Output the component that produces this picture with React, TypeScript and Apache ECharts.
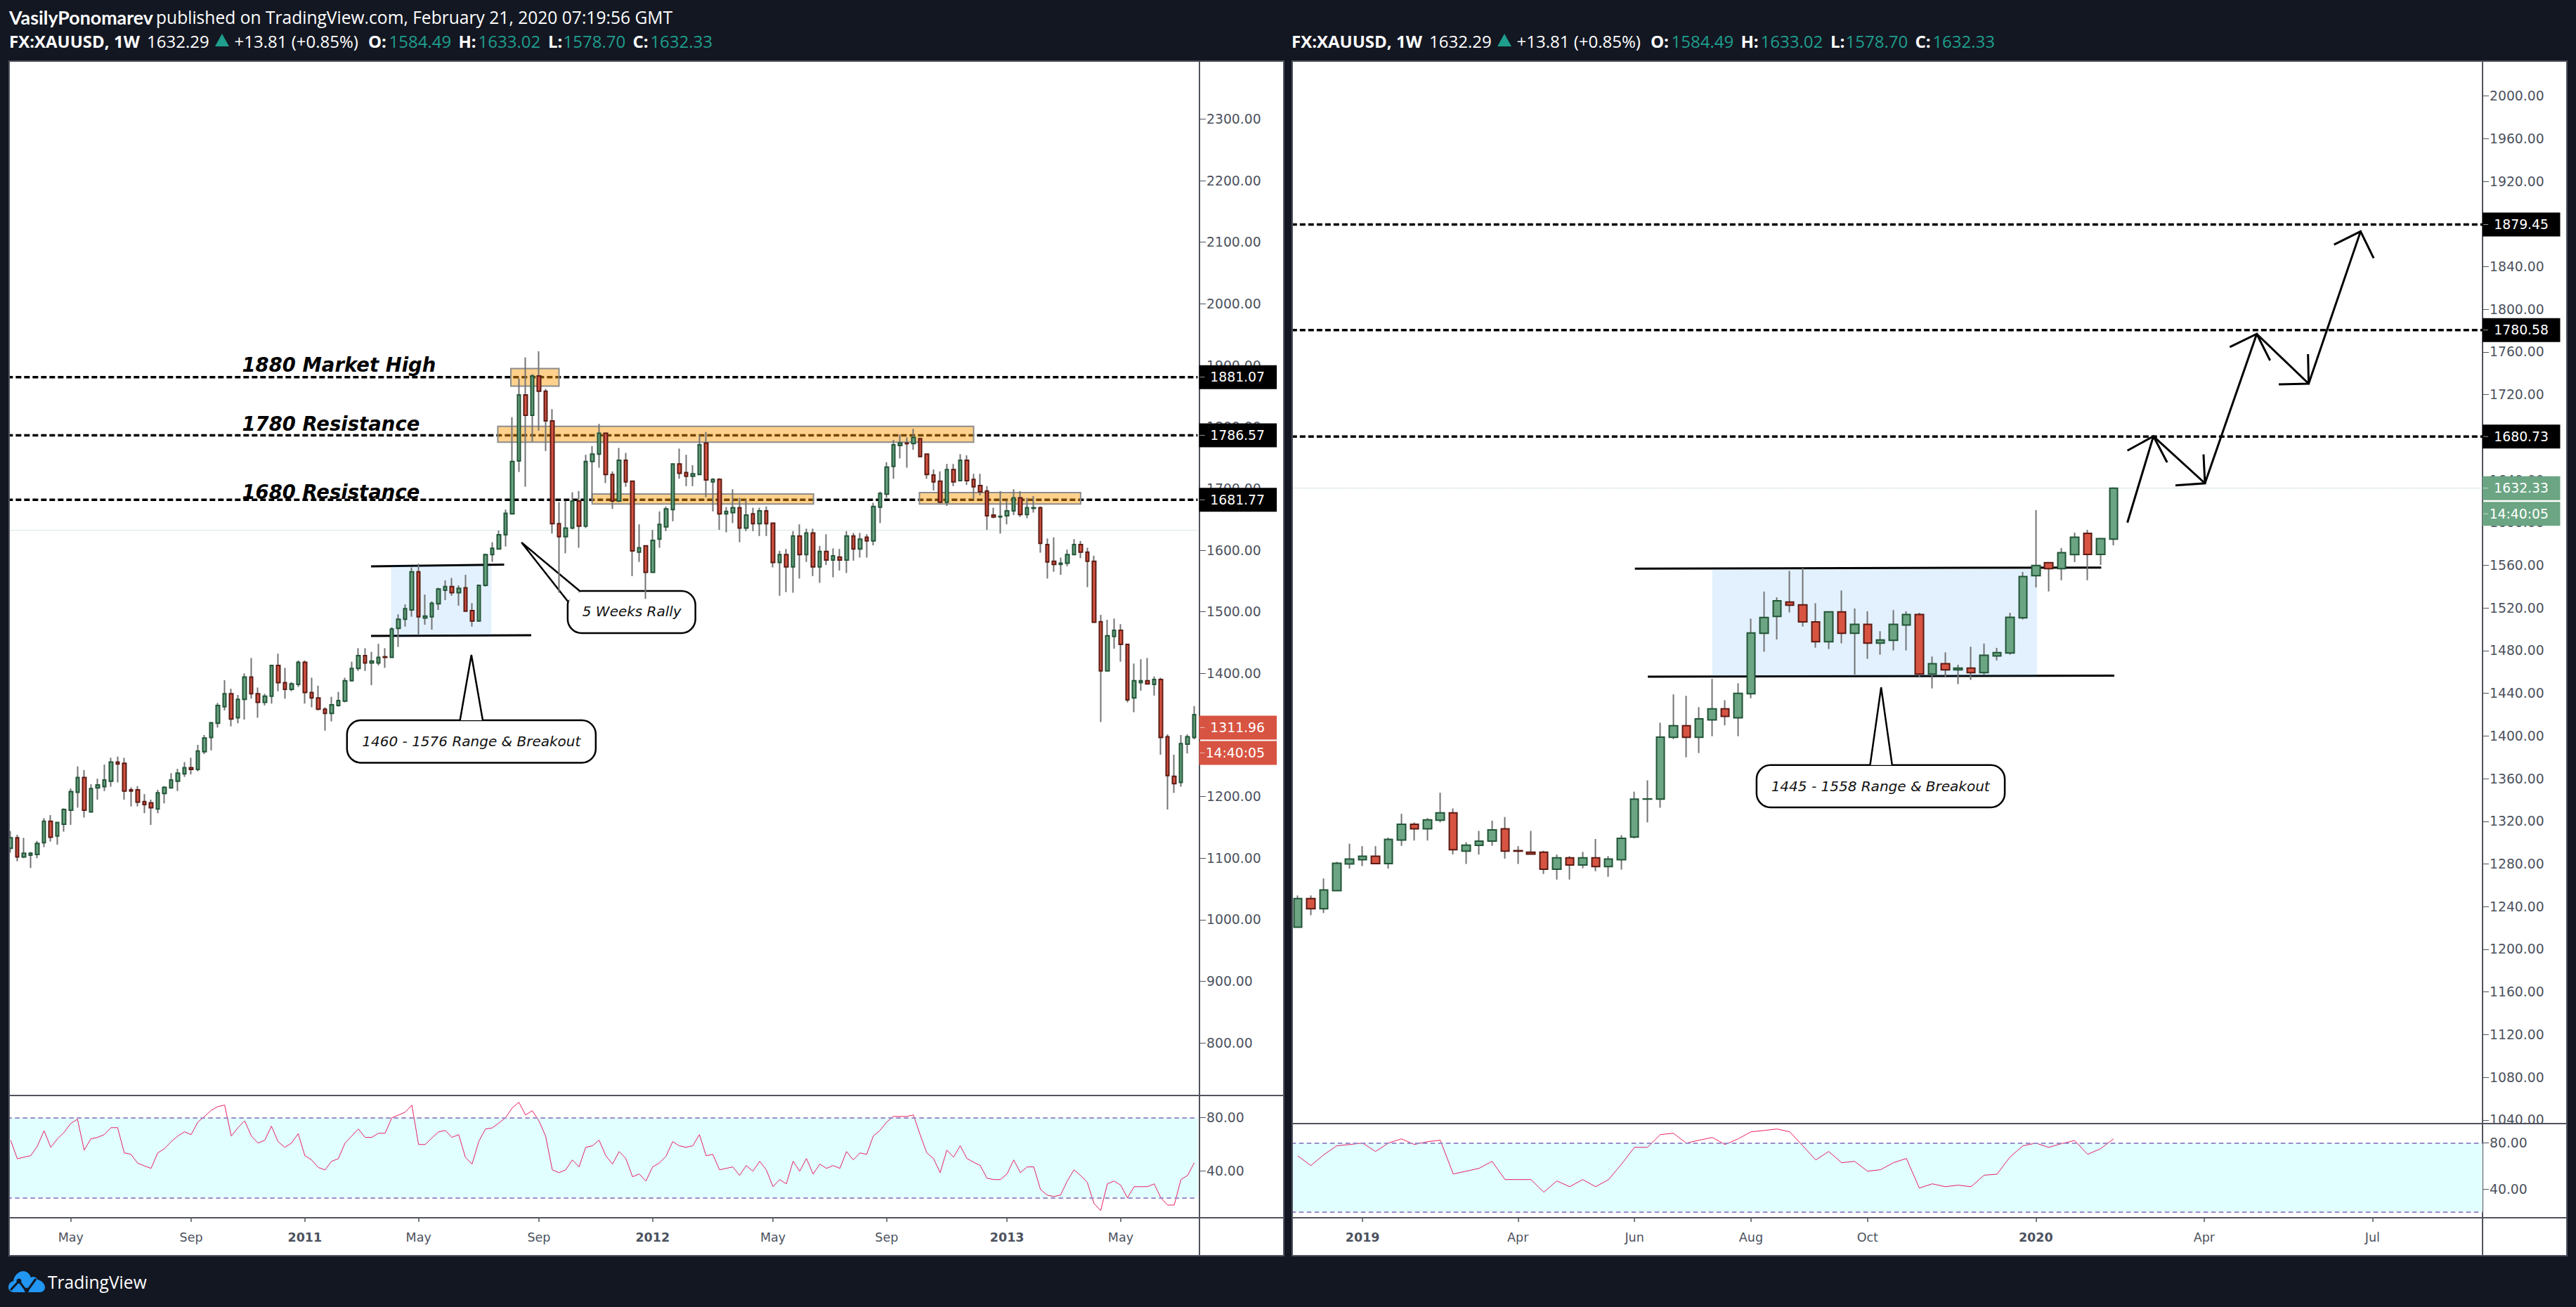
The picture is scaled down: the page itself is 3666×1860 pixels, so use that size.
import React, { useEffect, useRef } from "react";
import * as echarts from "echarts";

// ---------- data ----------
// [open, close, low, high]
const leftCandles: number[][] = [
[1116,1133,1109,1144],[1133,1102,1095,1138],[1102,1108,1100,1133],[1105,1108,1084,1110],[1106,1124,1100,1128],
[1125,1160,1118,1165],[1160,1134,1127,1170],[1136,1158,1122,1158],[1155,1179,1143,1181],[1178,1208,1154,1213],
[1207,1231,1182,1249],[1231,1178,1166,1243],[1175,1213,1175,1220],[1214,1219,1195,1229],[1216,1227,1209,1252],
[1225,1256,1216,1263],[1256,1253,1223,1265],[1254,1209,1195,1263],[1211,1209,1184,1215],[1211,1191,1184,1217],
[1192,1187,1173,1204],[1190,1182,1154,1195],[1180,1206,1173,1211],[1205,1215,1189,1217],[1214,1227,1214,1238],
[1225,1238,1209,1245],[1237,1247,1232,1256],[1247,1244,1236,1263],[1244,1274,1241,1284],[1273,1295,1269,1300],
[1296,1320,1275,1320],[1319,1348,1312,1352],
[1346,1367,1340,1389],[1367,1326,1314,1375],[1328,1358,1319,1365],[1358,1394,1325,1400],[1394,1367,1359,1425],
[1367,1353,1328,1377],[1353,1363,1348,1367],[1363,1413,1351,1413],[1413,1385,1371,1432],[1385,1374,1359,1409],
[1374,1383,1371,1386],[1382,1418,1378,1421],[1418,1369,1351,1421],[1369,1360,1345,1393],[1360,1342,1340,1380],
[1342,1335,1307,1345],[1335,1349,1322,1362],[1348,1356,1346,1370],[1355,1388,1353,1393],[1388,1408,1387,1419],
[1408,1429,1404,1441],[1429,1417,1404,1441],[1417,1420,1381,1435],[1417,1426,1413,1448],[1427,1426,1409,1441],
[1426,1472,1426,1475],[1473,1488,1443,1496],[1488,1505,1476,1512],[1503,1565,1492,1572],[1565,1492,1462,1578],
[1490,1493,1479,1528],[1492,1514,1471,1517],[1513,1537,1503,1539],[1535,1541,1519,1551],[1541,1531,1526,1555],
[1531,1538,1510,1543],[1539,1501,1501,1560],[1502,1485,1476,1514],[1485,1543,1484,1544],[1543,1593,1541,1594],
[1593,1603,1581,1613],[1602,1625,1602,1632],[1625,1660,1606,1666],[1659,1744,1659,1816],[1745,1852,1727,1879],
[1852,1819,1703,1913],[1819,1883,1776,1886],[1883,1858,1794,1923],[1858,1810,1761,1862],[1810,1643,1627,1829],
[1643,1622,1531,1678],[1622,1636,1595,1680],[1636,1680,1634,1694],[1680,1639,1604,1696],[1639,1744,1636,1755],
[1744,1756,1679,1769],[1756,1790,1734,1805],[1790,1723,1709,1790],[1723,1680,1667,1728],[1680,1746,1678,1766],
[1746,1711,1703,1758],
[1712,1599,1558,1713],[1597,1604,1581,1642],[1607,1564,1521,1607],[1564,1616,1564,1633],[1618,1642,1604,1663],
[1638,1667,1631,1671],[1666,1740,1647,1740],[1740,1725,1716,1765],[1726,1720,1704,1755],[1720,1724,1704,1738],
[1723,1771,1722,1787],[1774,1714,1686,1792],[1711,1715,1663,1717],[1715,1659,1633,1717],[1659,1663,1629,1670],
[1661,1669,1644,1699],[1669,1636,1613,1685],[1636,1657,1631,1682],[1659,1643,1631,1669],[1643,1664,1623,1669],
[1664,1643,1623,1671],[1644,1580,1572,1644],[1580,1593,1526,1599],[1593,1573,1532,1602],[1573,1623,1531,1631],
[1623,1593,1554,1642],[1593,1628,1581,1635],[1628,1573,1558,1635],[1573,1598,1547,1607],[1598,1584,1576,1626],
[1584,1591,1556,1603],[1589,1584,1567,1602],[1584,1623,1563,1631],[1623,1602,1583,1628],[1602,1618,1588,1628],
[1621,1615,1588,1626],[1615,1671,1608,1677],[1670,1692,1644,1695],[1691,1735,1685,1743],[1736,1771,1716,1779],
[1770,1774,1749,1788],[1774,1773,1734,1783],[1773,1783,1763,1797],[1781,1752,1752,1781],[1756,1723,1716,1756],
[1722,1711,1697,1731],[1712,1678,1677,1728],[1678,1731,1672,1740],[1731,1711,1704,1740],[1713,1746,1713,1756],
[1746,1713,1706,1754],[1715,1703,1684,1724],[1705,1695,1689,1724],[1696,1656,1633,1704],[1657,1654,1652,1669],
[1654,1655,1627,1696],[1656,1664,1642,1681],[1664,1685,1657,1699],[1685,1658,1654,1696],[1658,1669,1652,1685],
[1668,1669,1661,1688],[1669,1611,1596,1671],[1609,1581,1554,1619],[1582,1577,1565,1621],[1577,1579,1560,1588],
[1579,1593,1574,1601],[1593,1609,1592,1618],[1609,1597,1587,1615],[1597,1582,1540,1604],[1582,1483,1482,1591],
[1484,1404,1321,1495],[1404,1461,1404,1487],[1460,1470,1440,1489],[1470,1447,1419,1480],[1447,1357,1353,1447],
[1360,1388,1337,1416],[1385,1388,1372,1423],[1388,1383,1383,1425],[1382,1390,1364,1395],[1390,1296,1268,1393],
[1297,1234,1179,1301],[1233,1221,1206,1268],[1223,1286,1216,1300],[1285,1297,1270,1301],[1296,1333,1293,1347],
];

const rightCandles: number[][] = [
[1220.8,1247.5,1220.8,1250.5],[1247.5,1238,1232,1250.5],[1238,1255.6,1234,1266.4],[1255,1280.7,1255,1282],
[1280,1284.6,1275.7,1299],[1284,1287.3,1278,1296.7],[1287.3,1280.3,1280,1296.7],[1280.3,1303,1275.7,1304.7],
[1302.4,1317.3,1297,1327],[1317.3,1313,1302,1319],[1313,1321.3,1302,1323],[1321,1328,1319,1346.8],
[1328,1293.4,1289,1332],[1292,1297.7,1280,1300.4],[1297.4,1301.4,1288.8,1311],[1301.4,1312,1297,1320.6],
[1313,1292,1285,1324],[1292.5,1292,1280,1296.7],[1291,1289.3,1289,1311],[1291,1275,1270.7,1292.4],
[1275,1285.8,1265.4,1288.8],[1285.8,1279,1265.4,1287.3],[1279,1285.8,1276,1291.3],[1285.8,1277.5,1273.2,1303.4],
[1277.5,1284.6,1268,1287.3],[1284,1304,1274.7,1307],[1305.2,1340.8,1304,1347.8],[1340.8,1341,1319,1358.4],
[1340.8,1399,1332.7,1412.4],[1398.8,1409.6,1397,1439],[1409.6,1398.8,1380,1437.6],[1398.8,1416,1384,1427],
[1415,1425.5,1399.8,1453.5],[1425.5,1418.4,1410,1433.5],[1417,1440,1399.8,1449.4],[1439.6,1496.6,1435.3,1510],
[1496.3,1511,1479,1535.4],[1512,1526.8,1490.5,1530],
[1525.6,1522.6,1515.8,1554.8],[1523,1507,1502.6,1557.5],[1507,1488.3,1482.8,1524.5],[1488.3,1516.4,1481.5,1516.4],
[1516.4,1496.2,1486.8,1536.4],[1496.2,1504.6,1457.6,1519.5],[1504.6,1487,1472.3,1516.9],[1487,1490,1476.2,1498.2],
[1489.6,1504.6,1480.2,1518],[1504,1513.8,1480.2,1516.9],[1513.8,1458,1455,1515.5],[1458,1467.7,1444.6,1474.5],
[1467.7,1462,1455,1478.4],[1462,1463.7,1448.6,1466.8],[1463.7,1459.3,1452.5,1483.7],[1459.3,1475.6,1457.6,1486.6],
[1475,1478.2,1470.8,1482.6],[1477.8,1511.2,1476.2,1515.5],[1510.7,1549.4,1509.2,1553.8],[1550.2,1559.9,1539.3,1611.7],
[1562.5,1556.8,1535.5,1562.5],[1556.8,1571.8,1546,1576.2],[1570,1586.3,1563,1590.6],[1590,1570.2,1546,1593.3],
[1570.2,1585,1560.3,1585],[1584.49,1632.33,1578.7,1633.02],
];

const leftRsi: number[] = [
63.2,49.3,50.5,51.6,58.8,70.3,57.9,64.2,69.1,75.8,78.9,55.8,64.2,65.3,67.4,72.6,72.6,53.7,52.6,46,
44,42.1,53.7,56.8,62.1,66.3,69.5,67.4,76.8,81,85.6,88.4,89.5,66.3,72.6,77.7,66.3,61,63.2,73.7,
62.1,57.9,61,68.1,51.6,48.4,42.8,40.9,47.4,49.3,61,66.3,71.6,65.3,65.3,68.4,68.4,80,82.1,84.2,
89.5,60,60,64.9,69.5,70.5,65.3,67.4,50.5,45.3,62.1,71.6,72.4,76,80,87.4,91.6,82.1,85.3,77.7,
66.3,41,38.9,41,48.4,43.2,57.9,59,63.2,51.6,45.3,54.7,49.5,35.8,37.9,32.6,43.2,46.1,51.2,62.1,
59,57.9,59,67.4,
51.6,52.6,41,42.1,43.2,36.8,44.2,40,47.4,41,28.4,33.7,30.5,47.4,40,49.5,37.9,45.3,42.1,44.2,
42.1,54.7,48.4,53.7,52.6,66.3,70.5,76.8,81,81,81,82.1,67.4,53.7,49.5,38.9,55.8,50.5,59,49.5,
46.7,44.2,34.7,33.7,33.7,37.9,48.4,38.9,43.2,43.2,26.3,22.1,21,22.1,32.6,41,36.8,31.6,15.8,10.5,
30.5,32.6,29.5,20,28.4,28.4,28.4,30.5,20,14.6,14.6,33.7,36.8,46.3,
];

const rightRsi: number[] = [
68.8,60.4,69.8,77.6,78.8,80,72.7,80,83.7,78.8,81.2,82.5,53.1,55.5,58,64.1,48.2,48.2,48.2,37.2,
47,42,48.2,42,48.2,61.7,76.3,76.3,87.4,88.6,80,82.5,84.9,78.8,83.7,89.8,91,92.3,89.8,77.6,
65.3,72.7,62.9,64.1,55.5,56.8,62.9,66.6,40.8,44.5,42,43.3,42,
52,52.9,67.8,77.6,80,76.3,79.6,82.2,70.2,75.1,83.7,
];

const leftTickWeeks = [9, 27, 44, 61, 79, 96, 114, 131, 149, 166];
const leftTickLabels = ["May", "Sep", "2011", "May", "Sep", "2012", "May", "Sep", "2013", "May"];
const rightTickWeeks = [5, 17, 26, 35, 44, 57, 70, 83];
const rightTickLabels = ["2019", "Apr", "Jun", "Aug", "Oct", "2020", "Apr", "Jul"];

const leftPriceTicks = [800, 900, 1000, 1100, 1200, 1300, 1400, 1500, 1600, 1700, 1800, 1900, 2000, 2100, 2200, 2300];
const rightPriceTicks = [1040, 1080, 1120, 1160, 1200, 1240, 1280, 1320, 1360, 1400, 1440, 1480, 1520, 1560, 1600, 1640, 1680, 1720, 1760, 1800, 1840, 1880, 1920, 1960, 2000];
const rsiTicks = [40, 80];

const leftLevels = [1881.07, 1786.57, 1681.77];
const rightLevels = [1879.45, 1780.58, 1680.73];
const lastLine = 1632.33;
const leftLastTag = 1311.96;
const rightLastTag = 1632.33;
const timerText = "14:40:05";

// annotations in [week index, price]
const leftZones = [[74.8, 82.0, 1895, 1866.5], [72.85, 144.0, 1801, 1775.4], [86.96, 120.06, 1691.3, 1674.9], [135.9, 160.0, 1693.5, 1674.9]];
const leftLevelNotes: [string, number, number][] = [["1880 Market High", 34.6, 1901.2], ["1780 Resistance", 34.6, 1804.9], ["1680 Resistance", 34.6, 1695.2]];
const leftRangeLines = [[[53.9, 1573.8], [73.8, 1576.7]], [[53.9, 1460.8], [77.85, 1462]]];
const leftRangeBox = [56.9, 71.9, 1574.9, 1461.5];
const rightRangeLines = [[[26.03, 1556.9], [62.05, 1557.9]], [[27.03, 1455.6], [63.06, 1456.5]]];
const rightRangeBox = [32.01, 57.09, 1556.4, 1456.3];
const leftCallouts = [
  { text: "1460 - 1576 Range & Breakout", box: [50.3, 87.5, 1323.9, 1255], tail: [[67.2, 1323.9], [68.9, 1430], [70.6, 1323.9]], at: [68.9, 1289.6] },
  { text: "5 Weeks Rally", box: [83.3, 102.4, 1533.8, 1465.4], tail: [[85.1, 1533.8], [76.4, 1612.5], [83.3, 1517.2]], at: [92.9, 1500.7] },
];
const rightCallouts = [
  { text: "1445 - 1558 Range & Breakout", box: [35.43, 54.6, 1372.8, 1333], tail: [[44.2, 1372.8], [45.05, 1445.5], [45.9, 1372.8]], at: [45, 1352.8] },
];
const rightArrows = [
  [[[64.07, 1600], [66.08, 1681]], [[64.07, 1667.5], [66.08, 1681], [67.14, 1656.5]]],
  [[[66.08, 1681], [70.06, 1636.9]], [[69.95, 1664], [70.06, 1636.9], [67.78, 1635]]],
  [[[70.06, 1636.9], [74.06, 1776.9]], [[71.98, 1764.6], [74.06, 1776.9], [75.09, 1752]]],
  [[[74.06, 1776.9], [78.07, 1730.3]], [[78.02, 1758], [78.07, 1730.3], [75.76, 1729.6]]],
  [[[78.07, 1730.3], [82.08, 1873]], [[80.03, 1860.7], [82.08, 1873], [83.09, 1848]]],
];

const headline = "published on TradingView.com, February 21, 2020 07:19:56 GMT";

// ---------- styles ----------
const DARK = "#131722";
const EDGE = "#50535e";
const AXIS_TEXT = "#4c525e";
const UP = "#6ba583", UP_EDGE = "#225437";
const DOWN = "#d75442", DOWN_EDGE = "#5b1a13";
const WICK = "#737375";
const TEAL = "#1f9e8d";
const AXIS_FONT = "DejaVu Sans";

echarts.graphic.registerShape(
  "tvCloud",
  echarts.graphic.extendPath("M8 30 C3 30 0 27 0 23 C0 18 3 15 7 14 C8 6 15 0 21 0 C27 0 30 4 32 9 C35 7 40 8 41 12 C47 13 52 18 52 23 C52 27 49 30 45 30 Z", {})
);

function weeks(startIso: string, n: number): string[] {
  const t0 = Date.parse(startIso + "T00:00:00Z");
  return Array.from({ length: n }, (_, i) => new Date(t0 + i * 7 * 86400000).toISOString().slice(0, 10));
}

function bodies(rows: number[][]) {
  return rows.map(([o, c]) => [o, c, Math.min(o, c), Math.max(o, c)]);
}

const row2 = (dx: number) => {
  const t = (x: number, text: string, fill = "#fff", weight: any = "normal") => ({
    type: "text", z: 60, x: x + dx, y: 58,
    style: { text, fill, font: `${weight} 24px "Open Sans"`, textVerticalAlign: "middle", textAlign: "left" },
  });
  return [
    t(13, "FX:XAUUSD, 1W", "#fff", "bold"),
    t(209, "1632.29"),
    { type: "polygon", z: 60, shape: { points: [[306 + dx, 66], [326 + dx, 66], [316 + dx, 48]] }, style: { fill: TEAL } },
    t(333.5, "+13.81 (+0.85%)"),
    t(524, "O:", "#fff", "bold"), t(553.6, "1584.49", TEAL),
    t(652.4, "H:", "#fff", "bold"), t(680.5, "1633.02", TEAL),
    t(780, "L:", "#fff", "bold"), t(801.6, "1578.70", TEAL),
    t(900.5, "C:", "#fff", "bold"), t(925.4, "1632.33", TEAL),
  ];
};

function edgeLine(x1: number, y1: number, x2: number, y2: number) {
  return { type: "line", z: 48, shape: { x1, y1, x2, y2 }, style: { stroke: EDGE, lineWidth: 2 } };
}

function panelGraphics() {
  const rect = (x: number, y: number, width: number, height: number, fill: string, z: number) => ({ type: "rect", z, shape: { x, y, width, height }, style: { fill } });
  const frame = (x: number) => ({ type: "rect", z: 50, shape: { x, y: 87, width: 1814, height: 1700 }, style: { fill: "none", stroke: EDGE, lineWidth: 2 } });
  return [
    rect(14, 88, 1812, 1698, "#ffffff", -10),
    rect(1840, 88, 1812, 1698, "#ffffff", -10),
    rect(0, 0, 12, 1860, DARK, 49),
    rect(1828, 0, 10, 1860, DARK, 49),
    frame(13), frame(1839),
    edgeLine(14, 1559, 1826, 1559), edgeLine(14, 1733, 1826, 1733), edgeLine(1707, 1733, 1707, 1786),
    edgeLine(1840, 1599, 3652, 1599), edgeLine(1840, 1733, 3652, 1733), edgeLine(3533, 1733, 3533, 1786),
    { type: "text", z: 60, x: 13, y: 24.5, style: { text: "VasilyPonomarev", fill: "#fff", font: 'bold 26.8px "Lato"', textVerticalAlign: "middle" } },
    { type: "text", z: 60, x: 222, y: 24.5, style: { text: headline, fill: "#fff", font: '24.6px "Open Sans"', textVerticalAlign: "middle" } },
    ...row2(0), ...row2(1825),
    { type: "tvCloud", z: 60, x: 12, y: 1809, style: { fill: "#2196f3" } },
    { type: "polyline", z: 61, shape: { points: [[15, 1836], [27, 1823], [38, 1838], [51, 1820]] }, style: { stroke: DARK, lineWidth: 3, fill: "none" } },
    { type: "circle", z: 61, shape: { cx: 27, cy: 1823, r: 3.5 }, style: { fill: DARK } },
    { type: "circle", z: 61, shape: { cx: 38, cy: 1836, r: 3.5 }, style: { fill: DARK } },
    { type: "text", z: 60, x: 68, y: 1824, style: { text: "TradingView", fill: "#fff", font: '24.6px "Open Sans"', textVerticalAlign: "middle" } },
  ];
}

function levelDash(api: any, p: number, xEnd: number, dash: number[]) {
  const a = api.coord([-0.5, p]);
  const b = api.coord([xEnd, p]);
  return { type: "line", shape: { x1: a[0], y1: a[1], x2: b[0], y2: b[1] }, style: { stroke: "#000", lineWidth: 3.5, lineDash: dash } };
}

function thinLast(api: any, xEnd: number) {
  const a = api.coord([-0.5, lastLine]);
  const b = api.coord([xEnd, lastLine]);
  return { type: "line", shape: { x1: a[0], y1: a[1], x2: b[0], y2: b[1] }, style: { stroke: "#a9cdb9", lineWidth: 1, lineDash: [1, 1] } };
}

function boxFrom(api: any, b: number[]) {
  const a = api.coord([b[0], b[2]]);
  const c = api.coord([b[1], b[3]]);
  return { x: a[0], y: a[1], width: c[0] - a[0], height: c[1] - a[1] };
}

function polyline(api: any, pts: number[][], lineWidth = 3) {
  return { type: "polyline", shape: { points: pts.map((p) => api.coord(p)) }, style: { stroke: "#000", lineWidth, fill: "none" } };
}

function calloutShapes(api: any, c: any) {
  const shape = boxFrom(api, c.box);
  const at = api.coord(c.at);
  return [
    { type: "rect", shape: { ...shape, r: 20 }, style: { fill: "#fff", stroke: "#000", lineWidth: 2.5 } },
    { type: "polygon", shape: { points: c.tail.map((p: number[]) => api.coord(p)) }, style: { fill: "#fff" } },
    polyline(api, c.tail, 2.5),
    { type: "text", style: { text: c.text, x: at[0], y: at[1], fill: "#111", font: `italic 20px "${AXIS_FONT}"`, textAlign: "center", textVerticalAlign: "middle" } },
  ];
}

function tagShapes(axisX: number, textRight: number, y: number, label: string, fill: string) {
  return [
    { type: "rect", shape: { x: axisX, y: y - 17, width: 110.5, height: 34 }, style: { fill } },
    { type: "line", shape: { x1: axisX + 1, y1: y, x2: axisX + 8, y2: y }, style: { stroke: "#ffffff", lineWidth: 1, opacity: 0.6 } },
    { type: "text", style: { text: label, x: textRight, y, fill: "#fff", font: `18.8px "${AXIS_FONT}"`, textAlign: "right", textVerticalAlign: "middle" } },
  ];
}

const leftAnnotations = (_: any, api: any) => {
  const kids: any[] = [thinLast(api, 177.5)];
  leftLevels.forEach((p) => kids.push(levelDash(api, p, 177.5, [8, 4])));
  leftRangeLines.forEach((l) => kids.push(polyline(api, l)));
  kids.push({ type: "rect", shape: boxFrom(api, leftRangeBox), style: { fill: "rgba(33,150,243,0.13)" } });
  leftZones.forEach((z) => kids.push({ type: "rect", shape: boxFrom(api, z), style: { fill: "rgba(255,152,0,0.45)", stroke: "#8c8c8c", lineWidth: 2 } }));
  leftLevelNotes.forEach(([text, i, p]) => {
    const a = api.coord([i, p]);
    kids.push({ type: "text", style: { text, x: a[0], y: a[1], fill: "#000", font: `italic bold 27.5px "${AXIS_FONT}"`, textAlign: "left", textVerticalAlign: "middle" } });
  });
  leftCallouts.forEach((c) => kids.push(...calloutShapes(api, c)));
  return { type: "group", children: kids };
};

const rightAnnotations = (_: any, api: any) => {
  const kids: any[] = [thinLast(api, 91.5)];
  rightLevels.forEach((p) => kids.push(levelDash(api, p, 91.5, [8, 4])));
  rightRangeLines.forEach((l) => kids.push(polyline(api, l)));
  kids.push({ type: "rect", shape: boxFrom(api, rightRangeBox), style: { fill: "rgba(33,150,243,0.13)" } });
  rightCallouts.forEach((c) => kids.push(...calloutShapes(api, c)));
  rightArrows.forEach(([shaft, head]) => {
    kids.push(polyline(api, shaft));
    kids.push(polyline(api, head));
  });
  return { type: "group", children: kids };
};

const leftTags = (_: any, api: any) => {
  const kids: any[] = [];
  leftLevels.forEach((p) => kids.push(...tagShapes(1706.5, 1800, api.coord([0, p])[1], p.toFixed(2), "#000")));
  const y = api.coord([0, leftLastTag])[1];
  kids.push(...tagShapes(1706.5, 1800, y, leftLastTag.toFixed(2), DOWN));
  kids.push(...tagShapes(1706.5, 1800, y + 36, timerText, DOWN));
  return { type: "group", children: kids };
};

const rightTags = (_: any, api: any) => {
  const kids: any[] = [];
  rightLevels.forEach((p) => kids.push(...tagShapes(3533, 3627, api.coord([0, p])[1], p.toFixed(2), "#000")));
  const y = api.coord([0, rightLastTag])[1];
  kids.push(...tagShapes(3533, 3627, y, rightLastTag.toFixed(2), UP));
  kids.push(...tagShapes(3533, 3627, y + 36.5, timerText, UP));
  return { type: "group", children: kids };
};

function priceAxis(gridIndex: number, min: number, max: number, ticks: number[], offset: number) {
  return {
    type: "value", gridIndex, position: "right", offset, min, max, scale: true,
    splitLine: { show: false },
    axisLine: { show: true, onZero: false, lineStyle: { color: EDGE, width: 2 } },
    axisTick: { show: true, length: 9, customValues: ticks, lineStyle: { color: EDGE, width: 1 } },
    axisLabel: { margin: 10, customValues: ticks, color: AXIS_TEXT, fontFamily: AXIS_FONT, fontSize: 18.8, formatter: (v: number) => v.toFixed(2) },
  };
}

function rsiSeries(values: number[], idx: number) {
  return {
    type: "line", xAxisIndex: idx, yAxisIndex: idx, data: values, showSymbol: false, symbol: "none", z: 4,
    lineStyle: { color: "#e91e63", width: 1 }, silent: true,
    markArea: { silent: true, itemStyle: { color: "#e1ffff", opacity: 1 }, data: [[{ yAxis: 80 }, { yAxis: 20 }]] },
    markLine: { silent: true, symbol: "none", label: { show: false }, lineStyle: { color: "#9a8cc9", width: 2, type: [6.5, 4.5], opacity: 1 }, data: [{ yAxis: 80 }, { yAxis: 20 }] },
  };
}

function candleSeries(rows: number[][], axis: number, barWidth: number, borderWidth: number) {
  const wick = {
    type: "candlestick", name: "XAUUSD wicks", xAxisIndex: axis, yAxisIndex: axis, data: rows, barWidth: 1, z: 3, silent: true,
    itemStyle: { color: WICK, color0: WICK, borderColor: WICK, borderColor0: WICK, borderWidth: 2 },
  };
  const body = {
    type: "candlestick", name: "XAUUSD", xAxisIndex: axis, yAxisIndex: axis, data: bodies(rows), barWidth, z: 3, silent: true,
    itemStyle: { color: UP, color0: DOWN, borderColor: UP_EDGE, borderColor0: DOWN_EDGE, borderWidth },
  };
  return [wick, body];
}

function timeAxis(gridIndex: number, data: string[], tickWeeks: number[], tickLabels: string[], visible: boolean) {
  const wanted = (i: number) => tickWeeks.indexOf(i) >= 0;
  return {
    type: "category", gridIndex, data, show: visible, boundaryGap: true,
    axisLine: { show: false, onZero: false },
    axisTick: { show: true, alignWithLabel: true, length: 6, interval: (i: number) => wanted(i), lineStyle: { color: EDGE, width: 1.5 } },
    axisLabel: {
      margin: 19, interval: (i: number) => wanted(i), color: AXIS_TEXT, fontFamily: AXIS_FONT, fontSize: 17.5,
      formatter: (_v: string, i: number) => {
        const k = tickWeeks.indexOf(i);
        if (k < 0) return "";
        const s = tickLabels[k];
        return /^\d/.test(s) ? `{y|${s}}` : s;
      },
      rich: { y: { fontWeight: "bold", color: AXIS_TEXT, fontFamily: AXIS_FONT, fontSize: 17.5 } },
    },
  };
}

export default function App() {
  const ref = useRef<HTMLDivElement>(null);
  useEffect(() => {
    document.body.style.margin = "0";
    const chart = echarts.init(ref.current!, null, { renderer: "svg" });
    const leftWeeks = weeks("2010-03-01", 178);
    const rightWeeks = weeks("2018-12-03", 92);
    chart.setOption({
      animation: false,
      backgroundColor: DARK,
      tooltip: { show: false },
      grid: [
        { left: 10.35, top: 88, width: 1694.05, height: 1471 },
        { left: 10.35, top: 1559, width: 1694.05, height: 174 },
        { left: 1837.8, top: 88, width: 1695.2, height: 1511 },
        { left: 1837.8, top: 1599, width: 1695.2, height: 134 },
      ],
      xAxis: [
        timeAxis(0, leftWeeks, leftTickWeeks, leftTickLabels, false),
        timeAxis(1, leftWeeks, leftTickWeeks, leftTickLabels, true),
        timeAxis(2, rightWeeks, rightTickWeeks, rightTickLabels, false),
        timeAxis(3, rightWeeks, rightTickWeeks, rightTickLabels, true),
        { type: "value", gridIndex: 0, min: -0.5, max: 177.5, show: false },
        { type: "value", gridIndex: 2, min: -0.5, max: 91.5, show: false },
      ],
      yAxis: [
        priceAxis(0, 714.7, 2392.9, leftPriceTicks, 2.6),
        priceAxis(1, 5.1, 96.7, rsiTicks, 2.6),
        priceAxis(2, 1036.6, 2032, rightPriceTicks, 0),
        priceAxis(3, 14.9, 97, rsiTicks, 0),
      ],
      graphic: { elements: panelGraphics() },
      series: [
        { type: "custom", name: "left drawings", xAxisIndex: 4, yAxisIndex: 0, z: 1, silent: true, clip: false, data: [[0, 1600]], encode: { x: 0, y: 1 }, renderItem: leftAnnotations },
        { type: "custom", name: "right drawings", xAxisIndex: 5, yAxisIndex: 2, z: 1, silent: true, clip: false, data: [[0, 1600]], encode: { x: 0, y: 1 }, renderItem: rightAnnotations },
        ...candleSeries(leftCandles, 0, 5, 2),
        ...candleSeries(rightCandles, 2, 12, 2),
        rsiSeries(leftRsi, 1),
        rsiSeries(rightRsi, 3),
        { type: "custom", name: "left tags", xAxisIndex: 4, yAxisIndex: 0, z: 10, silent: true, clip: false, data: [[0, 1600]], encode: { x: 0, y: 1 }, renderItem: leftTags },
        { type: "custom", name: "right tags", xAxisIndex: 5, yAxisIndex: 2, z: 10, silent: true, clip: false, data: [[0, 1600]], encode: { x: 0, y: 1 }, renderItem: rightTags },
      ],
    });
    return () => chart.dispose();
  }, []);
  return <div ref={ref} style={{ position: "absolute", left: 0, top: 0, width: 3666, height: 1860 }} />;
}
